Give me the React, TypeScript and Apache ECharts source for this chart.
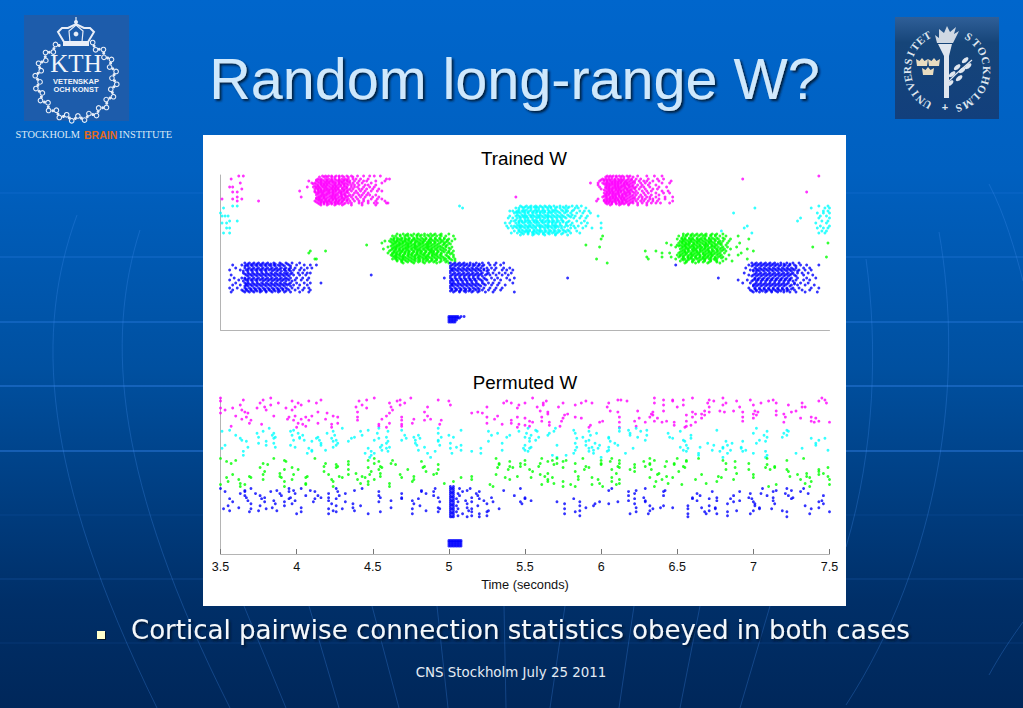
import React, { useEffect, useRef } from "react";
import * as echarts from "echarts";

// Spike rasters. Each row is [neuron row, spike times in hundredths of a second...]
const magentaTrained: number[][] = [
  [154,365,362,417,419,421,423,426,428,430,433,436,440,444,448,451,455,604,606,608,610,612,614,617,619,624,630,635,640,743],
  [153,415,418,420,423,425,428,431,434,437,603,605,607,610,613,615,618,621],
  [151,357,414,416,419,421,423,425,428,430,432,434,437,439,442,447,459,461,601,603,605,607,609,611,613,615,618,620,623,626,631,637,641,693],
  [150,413,415,417,420,423,426,428,431,433,600,602,604,606,609,612,614,617,620],
  [149,408,413,416,418,420,422,424,427,429,431,433,435,438,441,444,446,452,458,599,602,604,606,608,610,612,614,616,619,622,625,628,630,634,638,646],
  [148,414,416,419,421,423,425,428,430,434,604,607,609,611,613,616,618,621],
  [147,363,410,412,415,417,419,421,424,426,428,430,432,435,437,440,443,449,456,593,598,601,603,605,607,609,611,613,615,617,620,622,626,629,632,640,645],
  [146,411,413,416,418,420,422,425,428,431,433,602,604,606,608,610,612,615,617,619],
  [145,414,416,418,420,423,425,427,429,431,434,436,438,441,445,447,452,598,603,605,607,609,611,614,616,618,621,624,627,631,636],
  [144,412,414,417,419,421,424,426,429,432,604,606,609,611,613,615,618,620],
  [143,356,358,407,411,413,415,417,419,422,424,426,428,431,433,436,438,440,444,448,451,599,603,605,608,610,612,614,616,619,621,623,626,628,632,638,643],
  [142,413,415,418,420,423,425,427,430,433,603,605,607,609,611,613,616,618,622],
  [141,364,412,414,416,419,421,423,425,427,430,432,435,437,441,443,446,450,454,600,604,606,608,610,612,615,617,620,622,625,629,634,637],
  [140,414,416,418,420,422,424,426,428,431,434,602,605,607,610,612,614,617,619],
  [139,402,412,415,417,419,421,424,426,429,431,433,436,439,442,445,449,453,456,603,605,607,609,611,613,615,618,620,623,627,630,633,640,644],
  [138,358,361,735,412,414,416,418,421,423,425,428,430,433,604,606,608,611,613,616,618,621],
  [137,413,415,417,420,422,424,427,429,432,434,438,440,444,447,602,604,606,608,610,612,615,617,619,622,624,628,631,636,641,645],
  [136,414,417,419,421,424,426,429,431,603,605,607,609,611,614,616,619],
  [135,413,416,418,420,423,425,427,430,432,435,437,441,443,446,448,452,603,605,608,610,612,614,616,618,621,623,626,629,633,638],
  [134,415,417,419,422,424,426,429,432,434,602,604,607,609,612,614,617,620],
  [133,361,403,414,416,418,421,423,425,428,430,433,436,439,442,445,450,454,544,601,603,606,608,610,612,614,616,619,622,625,627,630,632,636,642,647],
  [132,413,415,418,420,423,425,427,430,432,604,606,608,610,613,615,618,621],
  [131,351,358,364,413,415,417,419,422,424,426,429,431,434,437,440,444,449,453,456,598,603,605,607,609,611,613,615,617,620,622,624,627,629,632,634,638,642],
  [130,414,416,419,421,424,426,428,431,433,602,604,606,609,611,614,616,619],
  [129,361,375,412,415,417,419,421,423,426,428,430,433,435,438,441,444,447,452,458,597,602,604,606,608,610,612,614,616,618,621,623,626,628,631,634,637,647],
  [128,413,416,418,420,422,425,427,430,603,605,607,609,612,614,617,620],
  [127,414,416,418,420,423,425,427,429,432,434,436,441,443,447,451,453,459,460,603,605,607,610,612,614,616,619,621,624,627,630,633,636,639,645],
  [126,415,418,421,423,426,428,431,604,607,610,613,615,618],
  [125,416,420,425,430,436,443,452,606,612,618,624,630],
];
const cyanTrained: number[][] = [
  [124,358,361,507,547,551,554,557,560,563,566,569,573,577,581,584,587,743,749],
  [123,548,550,553,556,558,561,564,567,571,575,579],
  [122,352,509,544,546,549,552,554,557,559,562,565,567,570,573,576,578,583,585,590,701,738,747,750],
  [120,546,549,551,554,557,559,562,565,568,570,574,577,582],
  [119,540,542,545,548,550,553,556,558,561,563,566,569,571,575,578,581,586,589,592,746,749],
  [118,544,546,549,552,555,558,560,563,566,568,572,577],
  [117,350,543,545,547,550,552,555,557,560,562,565,567,570,573,576,580,584,588,593,687,742,746,750],
  [115,545,548,550,553,555,558,560,563,565,568,571,574,578,581],
  [114,351,353,355,540,544,546,549,551,554,556,559,561,564,566,569,572,575,579,583,587,591,598,744,748],
  [113,547,549,551,554,557,559,562,565,567,570,573,576,580],
  [112,539,542,545,547,550,552,555,558,560,563,565,568,571,574,577,582,586,590,731,743,750],
  [110,544,547,550,552,555,557,560,562,565,568,571,574],
  [109,356,361,541,543,546,548,551,553,556,558,561,564,566,569,572,575,579,584,589,729,745,749],
  [108,546,548,550,553,556,558,561,563,566,568,571,575,578],
  [107,351,354,537,540,544,546,549,552,554,557,559,562,565,568,570,573,577,581,587,591,600,741,748],
  [105,545,547,550,553,555,558,560,563,565,568,570,573,577,580],
  [104,538,541,543,546,548,551,553,556,559,561,564,566,569,571,574,578,582,585,590,696,744,750],
  [103,544,547,549,552,554,557,560,562,565,567,570,572,576],
  [102,354,356,539,542,545,547,550,552,555,557,560,563,565,568,570,574,580,583,588,594,600,694,742,746,749],
  [100,546,548,551,553,556,558,560,563,566,569,572,575,578],
  [99,543,546,549,551,553,556,559,561,564,567,570,573,576,579,584,679,745,748],
  [98,547,550,552,555,557,560,563,566,569,572,577],
  [97,352,356,541,545,548,552,555,558,562,565,568,571,575,580,586,699,743,747],
  [96,549,552,556,559,562,566,570,574],
  [95,547,555,563,570,578],
];
const greenTrained: number[][] = [
  [96,466,470,473,477,480,484,488,491,495,500,654,657,660,663,666,669,673,676,680],
  [95,468,472,475,479,482,486,490,494,656,659,662,665,668,672,675],
  [94,463,465,468,471,473,476,479,481,484,487,489,492,495,498,503,601,651,654,656,659,661,664,667,669,672,675,678,682,690],
  [92,464,466,469,471,474,477,479,482,485,488,491,494,497,653,655,658,660,663,666,668,671,673,676,680],
  [91,462,464,467,469,472,474,477,480,483,485,488,491,494,497,500,504,600,650,653,655,658,660,663,665,668,671,674,677,681,685,697],
  [90,463,466,468,471,473,476,478,481,484,487,489,492,495,499,654,656,659,661,664,666,669,672,675],
  [89,458,461,464,466,469,471,474,476,479,482,484,487,490,493,496,499,502,652,654,657,659,662,664,667,670,672,675,678,680,684],
  [88,462,465,467,470,472,475,478,480,483,486,488,491,495,498,653,655,658,660,663,665,668,671,673,677],
  [87,456,463,465,468,470,473,475,478,481,483,486,488,491,494,497,500,643,651,653,656,658,661,663,666,669,671,674,677,679,683,691,749],
  [86,464,467,469,472,474,477,480,482,485,487,490,493,497,501,654,656,658,661,664,667,669,672,675,678],
  [85,446,463,466,468,471,473,476,478,481,484,486,489,492,496,499,590,646,650,652,655,657,660,662,665,668,670,673,676,679,682],
  [84,462,465,467,470,473,475,478,480,483,486,488,491,494,498,651,653,655,658,660,663,665,668,670,673,675],
  [83,460,464,466,469,472,474,477,479,482,485,487,490,493,495,498,502,599,649,654,656,659,661,664,666,669,672,674,677,680,683,689,739],
  [82,463,465,468,471,473,476,478,481,484,486,489,492,496,500,653,656,658,661,663,666,668,671,675,679],
  [81,457,463,465,467,470,472,475,478,480,483,486,488,491,494,497,501,652,655,657,660,662,665,668,670,673,676,678,681,685,696],
  [80,462,465,468,470,473,476,479,481,484,487,489,492,495,498,654,657,660,662,665,667,670,673,676,680],
  [79,419,409,461,464,467,469,472,474,477,480,482,485,488,490,493,496,500,503,629,636,653,655,658,661,663,666,669,671,674,677,679,682,700],
  [78,464,466,469,471,474,477,479,482,485,488,490,493,497,500,652,655,657,660,663,665,668,671,673,676],
  [77,408,460,463,465,468,471,473,476,479,481,484,487,489,492,495,499,502,640,645,651,654,656,659,662,664,667,670,672,675,678,681,692],
  [76,463,466,468,471,474,476,479,482,484,487,490,492,495,501,653,656,659,661,664,667,669,672,674,677],
  [75,462,465,467,470,473,475,478,480,483,486,489,491,494,498,503,650,652,655,658,660,663,665,668,671,673,676,679,684,690],
  [74,463,465,468,470,473,476,478,481,484,486,489,492,495,499,652,654,657,660,662,665,668,670,673,678],
  [73,464,466,469,471,474,477,480,482,485,487,490,493,496,500,503,630,640,646,651,654,657,659,662,665,667,670,672,675,677,680,748],
  [72,465,467,470,472,475,478,480,483,485,488,491,494,497,500,654,657,659,662,664,667,669,672,675,679],
  [71,412,413,463,465,468,470,473,476,478,481,484,486,489,492,495,498,501,504,597,631,696,649,653,655,658,660,663,666,668,671,674,676,682],
  [70,466,469,471,474,477,480,483,486,489,492,497,502,654,657,661,665,668,672,675],
  [69,466,469,472,475,478,481,485,488,491,495,499,504,652,656,660,664,668,672,676,680,686],
  [68,469,473,476,480,483,487,490,494,498,656,660,664,667,671,676],
  [67,470,477,484,492,500,604,655,662,670,678],
];
const blueTrained: number[][] = [
  [67,366,369,372,375,378,381,385,389,393,397,402,501,504,507,510,514,518,522,526,531,536,699,702,705,708,711,714,718,722,726,730],
  [66,368,371,374,377,380,383,386,390,394,503,506,509,512,516,520,701,704,707,710,713,716,720,724],
  [65,358,364,367,370,373,376,379,382,385,388,391,395,400,405,409,413,502,505,508,511,514,517,520,523,527,530,534,649,697,700,703,706,709,712,715,718,721,724,727,731,735,743],
  [64,366,368,371,374,377,380,383,386,389,392,396,501,504,507,510,513,516,519,522,699,702,705,708,711,714,717,720,723,728],
  [62,360,366,369,372,375,378,381,384,387,390,393,396,399,403,407,410,501,503,506,509,512,515,518,521,525,528,531,536,540,695,701,704,707,710,713,716,719,722,725,728,733,737],
  [61,368,371,374,377,380,383,386,389,392,395,502,504,507,510,513,516,519,523,702,705,708,711,714,717,720,723,726],
  [60,356,363,367,370,373,376,379,382,385,388,392,395,398,402,405,502,505,508,511,514,517,520,523,526,530,535,538,542,698,700,703,706,709,712,715,718,721,724,727,730,734,738],
  [59,365,368,371,374,377,380,384,387,390,393,396,501,503,506,509,512,515,518,521,525,700,702,704,707,710,713,716,719,722,725,729],
  [57,365,368,371,374,377,380,383,386,389,392,394,397,401,404,407,409,501,504,507,510,513,516,519,522,526,529,533,537,541,694,702,705,708,711,714,717,720,723,726,729,732,736],
  [56,366,369,372,375,378,381,384,387,390,393,396,503,506,509,512,515,518,521,525,701,704,707,710,713,716,719,722,725],
  [55,357,367,370,373,376,379,382,385,388,391,394,398,402,406,449,502,505,508,511,514,517,520,524,527,531,535,539,697,700,703,706,709,712,715,718,721,724,727,733,739],
  [54,368,371,374,377,380,383,386,389,392,395,501,504,507,510,513,516,519,522,699,702,705,708,711,714,717,720,723,728],
  [52,359,364,366,369,372,375,378,381,384,387,390,393,396,400,404,408,497,501,504,507,510,513,516,519,523,528,532,538,543,578,677,701,704,707,710,713,716,719,722,725,729,735,741],
  [51,366,368,371,374,377,380,383,386,389,392,394,502,505,508,511,514,517,520,524,701,703,706,709,712,715,718,721,724],
  [50,356,362,367,370,373,376,379,382,385,388,391,395,399,403,407,502,505,508,511,514,517,521,525,530,534,540,690,696,700,703,706,709,712,715,718,721,724,728,733,737],
  [49,365,368,371,374,378,381,384,387,390,393,397,501,503,506,509,512,515,518,522,699,702,705,708,711,714,717,720,723,726],
  [47,360,366,368,371,374,377,380,383,386,389,392,396,400,405,409,416,501,503,506,509,512,515,518,522,526,529,533,542,693,698,702,705,708,711,714,717,720,723,727,731,736],
  [46,367,369,372,375,378,381,384,387,390,393,395,502,504,507,510,513,516,519,523,701,704,707,710,713,716,719,722,727],
  [45,358,363,367,370,373,376,379,382,385,388,391,394,398,402,407,502,505,508,511,514,517,520,524,528,532,537,700,703,706,709,712,715,718,721,725,729,734,740],
  [44,366,368,371,374,377,380,383,386,389,392,396,501,503,506,509,512,515,518,521,700,702,705,708,711,714,717,720,724],
  [42,356,361,366,369,372,375,378,381,384,387,390,393,397,401,405,408,501,504,507,510,513,516,519,523,527,531,535,697,701,704,707,710,713,716,719,722,726,730,738,743],
  [41,367,370,373,376,379,382,385,388,391,394,502,505,508,511,514,517,520,701,704,707,710,713,716,719,722,725],
  [40,358,364,367,370,373,376,379,382,385,388,391,395,399,404,409,502,505,508,511,514,518,522,526,530,534,698,702,705,708,711,714,717,720,723,727,732,737],
  [39,365,368,371,374,377,380,383,386,389,393,501,504,507,510,513,516,520,699,702,706,709,712,715,718,722],
  [38,357,366,369,372,376,380,384,388,392,396,402,408,503,507,511,515,519,524,529,543,700,704,708,712,716,720,724,728,734,742],
];
const stimulusTrained: number[][] = [
  [8,500,501,502,503,504],
  [10,500,501,502,503,504,505],
  [12,500,501,502,503,504,505,506,507],
  [13.5,500,501,502,503,504,505,506,508,510],
];
const magentaPermuted: number[][] = [
  [155,350,383,451,475,555,635,660,680,745],
  [153,365,378,416,446,468,493,611,613,641,647,654,671,698,713,747],
  [152,350,397,408,441,466,500,538,564,590,617,647,674,689,710,743],
  [150,376,388,401,413,461,471,536,541,550,562,575,587,594,605,635,670,682,705,715,732,748],
  [148,363,383,403,443,468,501,546,562,583,641,654,680,700,723],
  [146,379,399,439,462,486,525,558,572,604,650,671,691,732,734],
  [145,350,358,374,393,446,545],
  [143,353,364,380,397,463],
  [142,560,606,624,641,668,678,687,701,715,728],
  [141,565,611,634,660,671,681,693,703,725,366,414,440,484,519],
  [140,350,368,420,461,515,522],
  [139,565,578,633,662,666,700,720],
  [138,576,634,656,668,702,715],
  [137,360,385,399,410,424,459,486,532],
  [136,367,395,406,427,440,469,525,545,561,583,612,632,660,693,721,738],
  [135,550,575,587,625,637,666,700,731,741],
  [134,364,394,403,419,456,477,488,530],
  [133,370,398,408,440,469,484,495,541],
  [132,553,561,574,601,622,635,643,656,693,738,743],
  [131,555,566,599,612,629,640,648,662,720,740,750],
  [130,369,401,414,427,461,476,525,541],
  [129,377,404,423,454,469,494,535,546],
  [128,550,566,593,648,659],
  [127,553,573,623,656,357,406,454,469],
  [126,400,423,459,545,592,612,655],
];
const cyanPermuted: number[][] = [
  [125,382,430,454,493,552,570,612,623,702],
  [123,356,398,447,469,508,557,582,618,630,676,722],
  [122,351,378,396,424,442,460,526,546,558,569,592,612,626,652,709,723],
  [120,374,385,401,420,453,493,532,551,566,583,597,619,644,700,720],
  [118,360,384,397,404,425,443,471,480,500,528,540,554,565,593,619,630,659,707,722],
  [116,375,386,402,414,438,459,477,495,503,538,550,559,588,605,624,645,709,719],
  [115,363,385,402,413,423,436,454,472,481,553,584,605,647,659,738,747],
  [113,364,398,405,415,426,451,469,478,493,557,592,629,654,704,743],
  [112,367,380,410,424,434,460,493,526,553,590,606,655,682,693,708],
  [110,375,385,416,427,459,478,501,535,583,596,609,670,686,702,741],
  [108,353,380,396,416,426,456,479,494,508,550,571,590,599,611,656,674,683,741],
  [106,368,386,399,424,455,461,484,505,554,584,594,605,652,665,680,692],
  [105,351,408,447,459,501,521,549,553,592,598,621,657,680,692,732],
  [103,410,419,456,480,508,535,550,583,595,605,654,673,685,695,749],
  [102,365,410,449,460,491,515,552,592,604,656,678,693,708],
  [100,407,445,451,486,502,521,582,595,616,664,683,700,728],
  [98,365,449,568,577,664,709],
  [96,448,488,571,600,680,708],
];
const greenPermuted: number[][] = [
  [95,350,385,412,451,531,561,571,588,607,632,650,664,709,733],
  [93,360,392,447,463,550,568,577,600,612,635,656,680,722],
  [92,354,393,434,454,482,540,565,575,606,628,643,656,688],
  [90,357,378,419,451,462,533,547,560,571,583,600,612,632,648,682,697],
  [89,381,426,434,465,493,533,550,569,600,622,632,648,709],
  [87,418,427,455,484,540,547,559,590,611,629,642,654,714],
  [86,376,397,426,447,456,483,532,542,575,592,612,622,655,688,708,714,749],
  [84,392,401,434,454,473,493,539,553,589,607,619,633,682,697,711,722,743],
  [82,379,418,449,485,555,583,622,651,723,743],
  [80,389,439,455,492,565,610,638,689,735,746],
  [79,358,378,398,421,434,448,468,490,531,560,637,666,700,729,743],
  [77,369,389,407,428,443,455,477,515,545,563,585,643,677,724,735,749],
  [76,354,370,390,406,430,445,469,508,537,554,568,594,607,632,647,679,700,737],
  [74,362,378,397,423,440,451,477,515,540,565,585,598,612,640,662,687,731,750],
  [72,355,392,424,447,476,503,565,575,607,636,676,738],
  [70,363,406,442,461,497,569,599,612,644,669,734],
  [69,350,366,406,447,527,561,580,594,610,653,715,750],
  [67,363,392,424,461,529,575,583,601,635,710,737],
];
const bluePermuted: number[][] = [
  [65,350,370,395,403,426,443,491,507,514,547,607,629,706,722,733],
  [63,366,387,398,409,438,482,512,536,605,623,642,715,725],
  [62,353,366,383,395,412,427,454,482,490,509,520,618,641,673,691,713,731],
  [60,363,373,389,399,421,432,469,485,506,518,622,663,698,705,721,736],
  [58,366,376,390,406,414,428,454,490,507,519,543,618,641,665,687,709,723,746],
  [56,367,379,396,416,421,455,469,493,515,528,550,628,660,676,697,713,726],
  [55,356,377,395,412,426,469,480,505,520,550,582,622,660,671,685,699,725],
  [53,368,385,399,421,462,476,511,523,554,618,629,663,676,691,713,745],
  [52,358,379,392,411,432,454,494,506,515,529,547,571,586,599,611,629,687,700,743],
  [50,370,386,397,423,437,477,512,525,548,576,596,605,622,701,683,714,746],
  [48,355,376,392,426,442,481,505,519,586,595,632,641,657,671,701,734],
  [46,362,384,403,437,462,493,512,590,623,639,647,666,675,704,743],
  [45,352,370,380,421,430,476,494,506,515,533,576,634,657,675,704,712,738],
  [43,356,375,387,424,438,485,513,526,586,632,671,689,700,719],
  [42,369,403,426,455,493,505,515,525,583,623,668,683,722,750],
  [40,400,421,447,476,509,520,576,619,631,657,669,676,698,737],
  [38,506,515,525,586,683],
  [37,512,520,657,722],
];
const burstPermuted: number[][] = [
  [67,501,503],[65,501,502,503],[63,501,503],[61,501,502,503],[59,501,503],[57,501,502,503],
  [55,501,503],[53,501,502,503],[51,501,503],[49,501,502,503],[47,501,503],[45,501,502,503],
  [43,501,503],[41,501,502,503],[39,501,503],[37,501,502,503],
];
const stimulusPermuted: number[][] = [
  [8,500,501,502,503,504,505,506,507,508],
  [10,500,501,502,503,504,505,506,507,508],
  [12,500,501,502,503,504,505,506,507,508],
  [13.5,500,501,502,503,504,505,506,507,508],
];

const xTicks = { min: 3.5, max: 7.5, interval: 0.5 };
const titleText = "Random long-range W?";
const bulletText = "Cortical pairwise connection statistics obeyed in both cases";
const footerText = "CNS Stockholm July 25 2011";

const SANS = "Liberation Sans, Arial, sans-serif";
const SERIF = "Liberation Serif, serif";
const DEJAVU = "DejaVu Sans, Verdana, sans-serif";

const toPoints = (rows: number[][]) =>
  rows.flatMap(([y, ...times]) => times.map((t) => [t / 100, y]));

const dots = (rows: number[][], color: string, idx: number) => ({
  type: "scatter",
  xAxisIndex: idx,
  yAxisIndex: idx,
  symbol: "circle",
  symbolSize: 2.9,
  silent: true,
  itemStyle: { color },
  data: toPoints(rows),
});

function backdrop(): any[] {
  const out: any[] = [];
  const arcStroke = "rgba(70,145,240,0.28)";
  [[193, 0.22], [257, 0.38], [322, 0.55], [386, 0.7], [451, 0.75], [515, 0.12], [579, 0.22], [643, 0.12]].forEach(([y, o]) =>
    out.push({ type: "line", z: -3, shape: { x1: 0, y1: y, x2: 1023, y2: y }, style: { stroke: `rgba(60,140,245,${o})`, lineWidth: 1 } })
  );
  [
    [77, 215, 35, 330, 40, 470, 157, 708],
    [140, 230, 105, 340, 115, 480, 230, 708],
    [866, 259, 878, 345, 875, 450, 846, 547],
    [939, 232, 965, 380, 940, 560, 846, 705],
    [989, 184, 1005, 215, 1015, 250, 1023, 281],
    [1023, 622, 1010, 640, 1000, 655, 989, 675],
  ].forEach(([x1, y1, cpx1, cpy1, cpx2, cpy2, x2, y2]) =>
    out.push({ type: "bezierCurve", z: -3, shape: { x1, y1, cpx1, cpy1, cpx2, cpy2, x2, y2 }, style: { stroke: arcStroke, fill: "none", lineWidth: 1 } })
  );
  [[244, 286], [309, 339], [372, 399], [437, 448], [504, 506], [565, 550], [634, 619], [700, 680], [770, 740]].forEach(([a, b]) =>
    out.push({ type: "line", z: -3, shape: { x1: a, y1: 606, x2: b, y2: 708 }, style: { stroke: arcStroke, lineWidth: 1 } })
  );
  return out;
}

function kthLogo(): any[] {
  const cx = 76, cy = 80;
  const white = "#e8eef8";
  const out: any[] = [
    { type: "rect", z: -1, shape: { x: 24, y: 15, width: 105, height: 106 }, style: { fill: "#1d5cab" } },
  ];
  for (let a = 24; a <= 336; a += 9) {
    const r = (a * Math.PI) / 180;
    const rad = a % 18 === 6 ? 41 : 36;
    out.push({ type: "circle", z: 0, shape: { cx: cx + rad * Math.sin(r), cy: cy - rad * Math.cos(r), r: 2.3 }, style: { fill: "none", stroke: white, lineWidth: 1.1 } });
    out.push({ type: "circle", z: 0, shape: { cx: cx + 38.5 * Math.sin(r + 0.07), cy: cy - 38.5 * Math.cos(r + 0.07), r: 1.5 }, style: { fill: white } });
  }
  out.push(
    { type: "polygon", z: 0, shape: { points: [[64, 42], [88, 42], [94, 32], [90, 28], [84, 28], [76, 24], [68, 28], [62, 28], [58, 32]] }, style: { fill: "none", stroke: white, lineWidth: 2 } },
    { type: "polyline", z: 0, shape: { points: [[70, 42], [69, 31], [76, 25], [83, 31], [82, 42]] }, style: { fill: "none", stroke: white, lineWidth: 1.2 } },
    { type: "rect", z: 0, shape: { x: 63, y: 42, width: 26, height: 4 }, style: { fill: white } },
    { type: "circle", z: 0, shape: { cx: 76, cy: 22, r: 2 }, style: { fill: white } },
    { type: "line", z: 0, shape: { x1: 76, y1: 17, x2: 76, y2: 25 }, style: { stroke: white, lineWidth: 1.2 } },
    { type: "circle", z: 0, shape: { cx: 76, cy: 34, r: 2.4 }, style: { fill: white } },
    { type: "text", z: 0, x: 76, y: 63.5, style: { text: "KTH", fill: "#f0f4fa", font: `25px ${SERIF}`, align: "center", verticalAlign: "middle" } },
    { type: "text", z: 0, x: 76, y: 81, style: { text: "VETENSKAP", fill: "#f0f4fa", font: `bold 7.5px ${SANS}`, align: "center", verticalAlign: "middle" } },
    { type: "text", z: 0, x: 76, y: 89.5, style: { text: "OCH KONST", fill: "#f0f4fa", font: `bold 7.5px ${SANS}`, align: "center", verticalAlign: "middle" } },
  );
  return out;
}

function suLogo(): any[] {
  const cx = 947, cy = 70, R = 40;
  const white = "#dfe6ef";
  const out: any[] = [
    {
      type: "rect", z: -1, shape: { x: 895, y: 17, width: 104, height: 102 },
      style: { fill: { type: "linear", x: 0, y: 0, x2: 0, y2: 1, colorStops: [{ offset: 0, color: "#2f5f98" }, { offset: 0.25, color: "#164579" }, { offset: 1, color: "#123f7c" }] } },
    },
  ];
  const place = (word: string, start: number, step: number) =>
    word.split("").forEach((ch, i) => {
      const deg = start + i * step;
      const r = (deg * Math.PI) / 180;
      out.push({
        type: "text", z: 0, x: cx + R * Math.sin(r), y: cy - R * Math.cos(r), rotation: -r,
        style: { text: ch, fill: white, font: `bold 11px ${SERIF}`, align: "center", verticalAlign: "middle" },
      });
    });
  // the seal's letters run clockwise round its ring
  place("UNIVERSITET", 210, 12);
  place("STOCKHOLMS", 33, 14.4);
  out.push(
    { type: "text", z: 0, x: 945, y: 107, style: { text: "+", fill: white, font: `bold 11px ${SANS}`, align: "center", verticalAlign: "middle" } },
    { type: "polygon", z: 0, shape: { points: [[938, 44], [952, 44], [949, 56], [949, 98], [944, 98], [944, 56]] }, style: { fill: white } },
    { type: "polygon", z: 0, shape: { points: [[937, 43], [935, 35], [939, 38], [939, 29], [944, 33], [947, 26], [950, 32], [956, 27], [954, 34], [959, 31], [953, 43]] }, style: { fill: "#cfd8e3" } },
    { type: "polyline", z: 0, shape: { points: [[946, 84], [956, 74], [972, 60]] }, style: { stroke: white, lineWidth: 1.2, fill: "none" } },
  );
  [[952, 74], [957, 67], [962, 70], [965, 60], [968, 66], [959, 78], [950, 83]].forEach(([x, y]) =>
    out.push({ type: "ellipse", z: 0, shape: { cx: x, cy: y, rx: 4, ry: 2 }, rotation: 0.7, originX: x, originY: y, style: { fill: white } })
  );
  [[922, 62], [934, 62], [928, 71]].forEach(([x, y]) =>
    out.push({ type: "polygon", z: 0, shape: { points: [[x - 5, y + 4], [x + 5, y + 4], [x + 6, y - 3], [x + 2.5, y - 1], [x, y - 4], [x - 2.5, y - 1], [x - 6, y - 3]] }, style: { fill: "#e8dcc0" } })
  );
  return out;
}

const textShadow = { textShadowColor: "rgba(0,20,50,0.9)", textShadowBlur: 2, textShadowOffsetX: 2, textShadowOffsetY: 2 };

export default function App() {
  const ref = useRef<HTMLDivElement>(null);
  useEffect(() => {
    document.body.style.margin = "0";
    const chart = echarts.init(ref.current!, null, { renderer: "svg" });
    const axisLine = { show: true, lineStyle: { color: "#b4b4b4", width: 1 } };
    chart.setOption({
      animation: false,
      backgroundColor: {
        type: "linear", x: 0, y: 0, x2: 0, y2: 1,
        colorStops: [
          { offset: 0, color: "#0066cc" },
          { offset: 0.24, color: "#0060c0" },
          { offset: 0.52, color: "#0050a0" },
          { offset: 0.85, color: "#002f68" },
          { offset: 1, color: "#00275a" },
        ],
      },
      title: [
        { text: "Trained W", left: 519, top: 144, textAlign: "center", textStyle: { fontFamily: SANS, fontSize: 18.8, fontWeight: "normal", color: "#000" } },
        { text: "Permuted W", left: 520, top: 368, textAlign: "center", textStyle: { fontFamily: SANS, fontSize: 18.8, fontWeight: "normal", color: "#000" } },
      ],
      grid: [
        { left: 220.5, width: 609, top: 175, height: 155 },
        { left: 220.5, width: 609, top: 398, height: 156 },
      ],
      xAxis: [
        { type: "value", gridIndex: 0, ...xTicks, axisLine, axisTick: { show: false }, axisLabel: { show: false }, splitLine: { show: false } },
        {
          type: "value", gridIndex: 1, ...xTicks, axisLine,
          axisTick: { show: true, inside: true, length: 5, lineStyle: { color: "#777" } },
          axisLabel: { show: true, margin: 6, fontFamily: SANS, fontSize: 12.5, color: "#111" },
          splitLine: { show: false },
          name: "Time (seconds)", nameLocation: "middle", nameGap: 24,
          nameTextStyle: { fontFamily: SANS, fontSize: 12.8, color: "#111" },
        },
      ],
      yAxis: [0, 1].map((i) => ({
        type: "value", gridIndex: i, min: 0, max: 155, interval: 155, axisLine,
        axisTick: { show: false }, axisLabel: { show: false }, splitLine: { show: false },
      })),
      series: [
        dots(magentaTrained, "#ff00ff", 0),
        dots(cyanTrained, "#00ffff", 0),
        dots(greenTrained, "#00ff00", 0),
        dots(blueTrained, "#0000ff", 0),
        dots(stimulusTrained, "#0000ff", 0),
        dots(magentaPermuted, "#ff00ff", 1),
        dots(cyanPermuted, "#00ffff", 1),
        dots(greenPermuted, "#00ff00", 1),
        dots(bluePermuted, "#0000ff", 1),
        dots(burstPermuted, "#0000ff", 1),
        dots(stimulusPermuted, "#0000ff", 1),
      ],
      graphic: {
        elements: [
          ...backdrop(),
          { type: "rect", z: -1, shape: { x: 203, y: 135, width: 643, height: 471 }, style: { fill: "#ffffff" } },
          ...kthLogo(),
          ...suLogo(),
          { type: "text", z: 0, x: 514.5, y: 79, style: { text: titleText, fill: "#cfe8fc", font: `57.5px ${SANS}`, align: "center", verticalAlign: "middle", ...textShadow } },
          { type: "text", z: 0, x: 15.5, y: 134.5, style: { text: "STOCKHOLM", fill: "#dbe8f5", font: `10.4px ${SERIF}`, align: "left", verticalAlign: "middle" } },
          { type: "text", z: 0, x: 84, y: 134.5, style: { text: "BRAIN", fill: "#e2691f", font: `bold 10.5px ${SANS}`, align: "left", verticalAlign: "middle" } },
          { type: "text", z: 0, x: 119, y: 134.5, style: { text: "INSTITUTE", fill: "#dbe8f5", font: `10.4px ${SERIF}`, align: "left", verticalAlign: "middle" } },
          { type: "rect", z: 0, shape: { x: 97, y: 631, width: 8, height: 8 }, style: { fill: "#ffffcc", shadowColor: "rgba(0,0,0,0.6)", shadowOffsetX: 1, shadowOffsetY: 1 } },
          { type: "text", z: 0, x: 131, y: 630, style: { text: bulletText, fill: "#f4f8fc", font: `26.05px ${DEJAVU}`, align: "left", verticalAlign: "middle", ...textShadow } },
          { type: "text", z: 0, x: 511, y: 672, style: { text: footerText, fill: "#e4ecf4", font: `13.4px ${DEJAVU}`, align: "center", verticalAlign: "middle" } },
        ],
      },
    });
    return () => chart.dispose();
  }, []);
  return <div ref={ref} style={{ position: "absolute", left: 0, top: 0, width: 1023, height: 708 }} />;
}
